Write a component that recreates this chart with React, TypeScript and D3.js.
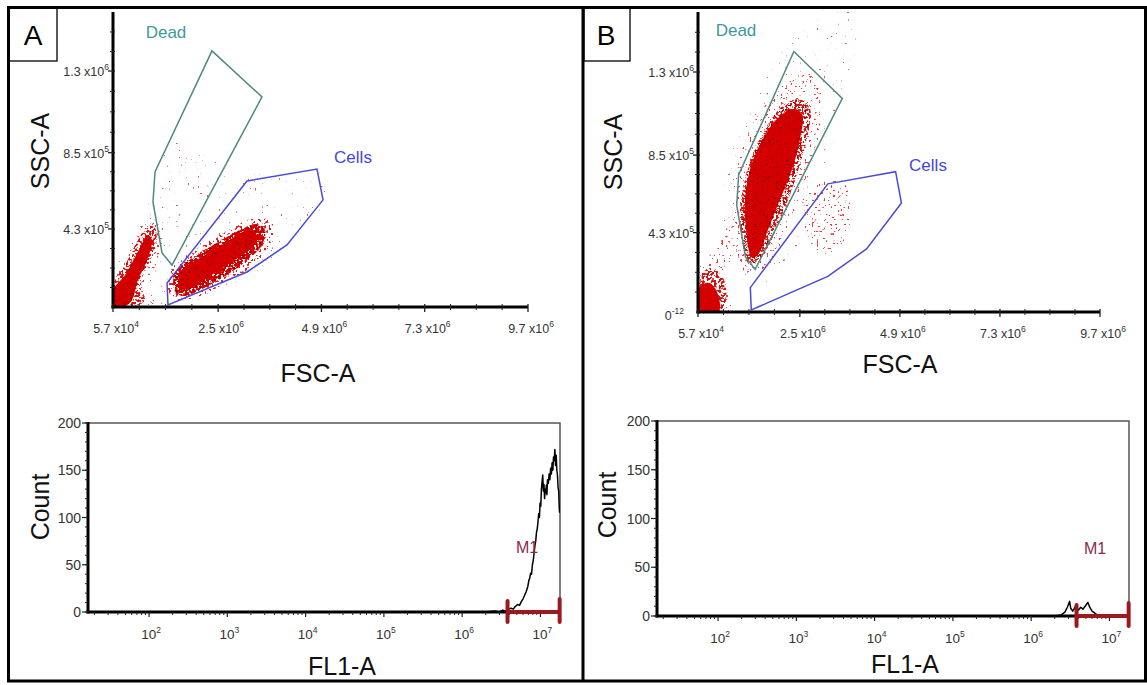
import React from "react";
import * as d3 from "d3";

// ---------------- Scatter axes (values in units of 10^6) ----------------
const fscTicks = [0.057, 2.5, 4.9, 7.3, 9.7];
const fscTickMantissa = ["5.7", "2.5", "4.9", "7.3", "9.7"];
const fscTickExp = ["4", "6", "6", "6", "6"];
const sscTicks = [0.43, 0.85, 1.3];
const sscTickMantissa = ["4.3", "8.5", "1.3"];
const sscTickExp = ["5", "5", "6"];
const fscDomain = [0.057, 9.7];
const sscDomain = [0, 1.625];

// ---------------- Gates (FSC-A, SSC-A, x10^6) ----------------
const deadGate = [
  [2.357, 1.411], [3.519, 1.157], [1.428, 0.231], [1.196, 0.298], [0.986, 0.579], [1.033, 0.744],
];
const cellsGate = [
  [3.171, 0.694], [4.797, 0.76], [4.937, 0.59], [4.1, 0.342], [3.171, 0.193], [1.335, 0.011], [1.312, 0.132],
];

// ---------------- Event density contours ----------------
// Panel A (untreated)
const aDebrisInner = [
  [0.057, 0.011], [0.057, 0.094], [0.336, 0.176], [0.684, 0.325], [0.87, 0.397], [0.963, 0.369],
  [0.87, 0.27], [0.638, 0.149], [0.499, 0.039], [0.336, 0.006],
];
const aDebrisCore = [
  [0.057, 0.006], [0.057, 0.121], [0.336, 0.231], [0.638, 0.369], [0.87, 0.446], [1.033, 0.435],
  [1.056, 0.342], [0.87, 0.231], [0.684, 0.121], [0.801, 0.039], [0.568, 0.006],
];
const aDebrisHalo = [
  [0.057, 0.0], [0.057, 0.176], [0.452, 0.342], [0.801, 0.479], [1.103, 0.49], [1.196, 0.369],
  [1.103, 0.231], [0.917, 0.094], [1.265, 0.039], [1.149, 0.0],
];
const aCellsInner = [
  [1.614, 0.105], [1.614, 0.193], [2.079, 0.27], [2.66, 0.353], [3.194, 0.424], [3.38, 0.408],
  [3.334, 0.342], [2.892, 0.259], [2.311, 0.171], [1.893, 0.105],
];
const aCellsCore = [
  [1.521, 0.077], [1.475, 0.176], [1.893, 0.27], [2.427, 0.347], [3.008, 0.424], [3.38, 0.457],
  [3.589, 0.424], [3.52, 0.342], [3.125, 0.248], [2.59, 0.16], [2.079, 0.094], [1.73, 0.061],
];
const aCellsHalo = [
  [1.382, 0.061], [1.382, 0.204], [1.963, 0.314], [2.66, 0.413], [3.357, 0.49], [3.752, 0.468],
  [3.706, 0.342], [3.241, 0.215], [2.59, 0.121], [1.963, 0.05], [1.568, 0.039],
];
const aCellsOuter = [
  [1.265, 0.05], [1.265, 0.231], [2.079, 0.342], [3.008, 0.468], [3.706, 0.523], [4.054, 0.479],
  [3.822, 0.325], [3.241, 0.204], [2.427, 0.094], [1.73, 0.022],
];
const aSparse = [
  [0.917, 0.039], [0.963, 0.7], [1.614, 0.92], [2.776, 0.755], [3.706, 0.727], [4.868, 0.7],
  [4.984, 0.562], [4.17, 0.369], [3.473, 0.204], [2.079, 0.039],
];

// Panel B (treated)
const bDebrisInner = [
  [0.081, 0.005], [0.081, 0.131], [0.297, 0.158], [0.489, 0.12], [0.561, 0.005],
];
const bDebrisCore = [
  [0.081, 0.0], [0.081, 0.185], [0.393, 0.239], [0.681, 0.174], [0.729, 0.065], [0.633, 0.0],
];
const bDebrisHalo = [
  [0.057, 0.0], [0.057, 0.228], [0.465, 0.337], [0.873, 0.473], [1.113, 0.49], [1.017, 0.337],
  [0.705, 0.174], [0.825, 0.011],
];
const bDeadInner = [
  [1.352, 0.294], [1.209, 0.446], [1.185, 0.609], [1.304, 0.772], [1.544, 0.908], [1.904, 1.034],
  [2.312, 1.099], [2.552, 1.072], [2.504, 0.936], [2.312, 0.772], [2.024, 0.609], [1.736, 0.446],
  [1.496, 0.31],
];
const bDeadCore = [
  [1.304, 0.256], [1.113, 0.392], [1.065, 0.555], [1.185, 0.718], [1.424, 0.881], [1.736, 1.017],
  [2.144, 1.126], [2.504, 1.153], [2.744, 1.099], [2.696, 0.963], [2.504, 0.8], [2.264, 0.636],
  [1.976, 0.473], [1.664, 0.326],
];
const bDeadMid = [
  [1.185, 0.218], [0.945, 0.392], [0.897, 0.609], [1.017, 0.8], [1.304, 0.99], [1.784, 1.153],
  [2.264, 1.262], [2.744, 1.289], [3.032, 1.208], [2.984, 1.017], [2.792, 0.827], [2.504, 0.636],
  [2.144, 0.419], [1.784, 0.256],
];
const bDeadOuter = [
  [1.113, 0.174], [0.705, 0.392], [0.705, 0.718], [1.065, 0.99], [1.664, 1.262], [2.264, 1.48],
  [2.864, 1.616], [3.703, 1.632], [3.823, 1.425], [3.463, 1.099], [3.223, 0.827], [2.864, 0.555],
  [2.384, 0.31], [1.904, 0.174],
];
const bCellsSparse = [
  [2.624, 0.636], [3.463, 0.718], [3.703, 0.609], [3.583, 0.392], [2.984, 0.31], [2.624, 0.446],
];

// ---------------- Histograms FL1-A ----------------
const countTicks = [0, 50, 100, 150, 200];
const fl1Ticks = [1e2, 1e3, 1e4, 1e5, 1e6, 1e7];
const fl1TickExp = ["2", "3", "4", "5", "6", "7"];
const fl1Domain = [Math.pow(10, 1.22), Math.pow(10, 7.25)];
const m1Range = [3.8e6, 1.76e7];

const fl1A = [
  2.0e6, 2.6e6, 3.0e6, 3.3e6, 3.6e6, 3.9e6, 4.2e6, 4.5e6, 4.8e6, 5.1e6, 5.4e6, 5.7e6, 6.0e6, 6.3e6,
  6.6e6, 6.9e6, 7.1e6, 7.3e6, 7.5e6, 7.7e6, 7.9e6, 8.1e6, 8.3e6, 8.5e6, 8.7e6, 8.9e6, 9.1e6, 9.3e6,
  9.5e6, 9.7e6, 9.9e6, 1.01e7, 1.03e7, 1.05e7, 1.07e7, 1.09e7, 1.11e7, 1.13e7, 1.15e7, 1.17e7,
  1.19e7, 1.21e7, 1.23e7, 1.26e7, 1.29e7, 1.32e7, 1.35e7, 1.38e7, 1.41e7, 1.44e7, 1.47e7, 1.5e7,
  1.53e7, 1.56e7, 1.59e7, 1.62e7, 1.65e7, 1.68e7, 1.71e7, 1.74e7, 1.76e7,
];
const countA = [
  0, 1, 0, 2, 1, 3, 4, 3, 6, 8, 7, 11, 14, 18,
  22, 27, 33, 36, 41, 40, 50, 55, 62, 70, 75, 84, 88, 95,
  104, 100, 115, 112, 130, 138, 145, 128, 135, 120, 130, 126,
  134, 124, 140, 136, 146, 140, 152, 146, 158, 150, 164, 160,
  172, 155, 166, 150, 145, 132, 128, 110, 105,
];
const fl1B = [
  2.0e6, 2.4e6, 2.7e6, 2.9e6, 3.1e6, 3.2e6, 3.4e6, 3.7e6, 4.0e6, 4.3e6, 4.6e6, 5.0e6, 5.3e6, 5.6e6,
  6.0e6, 6.5e6, 7.0e6, 8.0e6,
];
const countB = [0, 1, 4, 9, 15, 8, 5, 10, 6, 9, 7, 11, 14, 9, 5, 3, 1, 0];

// ---------------- styles ----------------
const FONT = "'Liberation Sans', Arial, Helvetica, sans-serif";
const TICK_COLOR = "#333";
const speckles = [
  { id: "spk-dense", t: 0.42, seed: 2, color: "#d40000" },
  { id: "spk-mid", t: 0.5, seed: 5, color: "#d81010" },
  { id: "spk-low", t: 0.58, seed: 9, color: "#dc2222" },
  { id: "spk-sparse", t: 0.65, seed: 13, color: "#e04040" },
  { id: "spk-rare", t: 0.71, seed: 21, color: "#e05858" },
  { id: "spk-dark", t: 0.64, seed: 31, color: "#8e0000" },
];

function SpeckleFilters() {
  return (
    <>
      {speckles.map((s) => {
        const k = 25;
        return (
          <filter
            key={s.id}
            id={s.id}
            filterUnits="userSpaceOnUse"
            x={0}
            y={0}
            width={1147}
            height={685}
            colorInterpolationFilters="sRGB"
          >
            <feTurbulence type="fractalNoise" baseFrequency={0.42} numOctaves={1} seed={s.seed} result="noise" />
            <feColorMatrix
              in="noise"
              type="matrix"
              values="0 0 0 0 0  0 0 0 0 0  0 0 0 0 0  1 0 0 0 0"
              result="na"
            />
            <feComponentTransfer in="na" result="mask">
              <feFuncA type="linear" slope={k} intercept={-k * s.t} />
            </feComponentTransfer>
            <feComposite in="SourceGraphic" in2="mask" operator="in" />
          </filter>
        );
      })}
    </>
  );
}

type Layer = { pts: number[][]; level: string };

function Sup({ base, exp, size, supSize }: { base: string; exp: string; size: number; supSize: number }) {
  return (
    <>
      {base}
      <tspan fontSize={supSize} dy={-size * 0.45}>
        {exp}
      </tspan>
    </>
  );
}

function ScatterPanel(props: {
  id: string;
  x0: number;
  x1: number;
  yTop: number;
  yBot: number;
  layers: Layer[];
  zeroLabel: boolean;
  deadLabel: [number, number];
  cellsLabel: [number, number];
  xTitle: [number, number];
  yTitle: [number, number];
}) {
  const { id, x0, x1, yTop, yBot, layers } = props;
  const xs = d3.scaleLinear().domain(fscDomain).range([x0, x1]);
  const ys = d3.scaleLinear().domain(sscDomain).range([yBot, yTop]);
  const smooth = d3
    .line<number[]>()
    .x((d) => xs(d[0]))
    .y((d) => ys(d[1]))
    .curve(d3.curveCatmullRomClosed.alpha(0.5));
  const poly = d3
    .line<number[]>()
    .x((d) => xs(d[0]))
    .y((d) => ys(d[1]))
    .curve(d3.curveLinearClosed);

  const xMinor: number[] = [];
  for (let i = 0; i < fscTicks.length - 1; i++) {
    const a = fscTicks[i], b = fscTicks[i + 1];
    for (let k = 1; k < 4; k++) xMinor.push(a + ((b - a) * k) / 4);
  }
  const yMajorsAll = [0, ...sscTicks];
  const yMinor: number[] = [];
  for (let i = 0; i < yMajorsAll.length - 1; i++) {
    const a = yMajorsAll[i], b = yMajorsAll[i + 1];
    for (let k = 1; k < 4; k++) yMinor.push(a + ((b - a) * k) / 4);
  }
  for (let v = 1.3 + 0.1075; v < 1.62; v += 0.1075) yMinor.push(v);

  const TS = 12.5;
  return (
    <g>
      <defs>
        <clipPath id={id + "-clip"}>
          <rect x={x0} y={yTop - 4} width={x1 - x0} height={yBot - yTop + 4} />
        </clipPath>
      </defs>
      <g clipPath={`url(#${id}-clip)`}>
        {layers.map((l, i) =>
          l.level === "solid" ? (
            <path key={i} d={smooth(l.pts) || ""} fill="#d40000" />
          ) : (
            <path
              key={i}
              d={smooth(l.pts) || ""}
              fill={speckles.find((s) => s.id === l.level)!.color}
              filter={`url(#${l.level})`}
            />
          )
        )}
      </g>
      {/* gates */}
      <path d={poly(deadGate) || ""} fill="none" stroke="#4f8a82" strokeWidth={1.5} />
      <path d={poly(cellsGate) || ""} fill="none" stroke="#4a4ad6" strokeWidth={1.5} />
      <text x={props.deadLabel[0]} y={props.deadLabel[1]} fontFamily={FONT} fontSize={17} fill="#3d9a9a" textAnchor="middle">
        Dead
      </text>
      <text x={props.cellsLabel[0]} y={props.cellsLabel[1]} fontFamily={FONT} fontSize={17} fill="#4545e0" textAnchor="middle">
        Cells
      </text>
      {/* axes */}
      <line x1={x0} x2={x0} y1={yTop} y2={yBot + 1.5} stroke="#000" strokeWidth={3} />
      <line x1={x0 - 1.5} x2={x1} y1={yBot} y2={yBot} stroke="#000" strokeWidth={3} />
      {xMinor.map((v, i) => (
        <line key={"xm" + i} x1={xs(v)} x2={xs(v)} y1={yBot - 3} y2={yBot + 3} stroke="#222" strokeWidth={1} />
      ))}
      {fscTicks.map((v, i) => (
        <line key={"xM" + i} x1={xs(v)} x2={xs(v)} y1={yBot - 3} y2={yBot + 5} stroke="#222" strokeWidth={1.3} />
      ))}
      {yMinor.map((v, i) => (
        <line key={"ym" + i} x1={x0 - 3} x2={x0 + 2} y1={ys(v)} y2={ys(v)} stroke="#222" strokeWidth={1} />
      ))}
      {sscTicks.map((v, i) => (
        <line key={"yM" + i} x1={x0 - 5} x2={x0 + 2} y1={ys(v)} y2={ys(v)} stroke="#222" strokeWidth={1.3} />
      ))}
      {fscTicks.map((v, i) => (
        <text key={"xl" + i} x={xs(v) + 3} y={yBot + 26} fontFamily={FONT} fontSize={TS} fill={TICK_COLOR} textAnchor="middle">
          <Sup base={fscTickMantissa[i] + " x10"} exp={fscTickExp[i]} size={TS} supSize={8.5} />
        </text>
      ))}
      {sscTicks.map((v, i) => (
        <text key={"yl" + i} x={x0 - 4} y={ys(v) + 5} fontFamily={FONT} fontSize={TS} fill={TICK_COLOR} textAnchor="end">
          <Sup base={sscTickMantissa[i] + " x10"} exp={sscTickExp[i]} size={TS} supSize={8.5} />
        </text>
      ))}
      {props.zeroLabel && (
        <text x={x0 - 14} y={ys(0) + 8} fontFamily={FONT} fontSize={TS} fill={TICK_COLOR} textAnchor="end">
          <Sup base="0" exp="-12" size={TS} supSize={8.5} />
        </text>
      )}
      <text x={props.xTitle[0]} y={props.xTitle[1]} fontFamily={FONT} fontSize={25} fill="#111" textAnchor="middle">
        FSC-A
      </text>
      <text
        transform={`translate(${props.yTitle[0]},${props.yTitle[1]}) rotate(-90)`}
        fontFamily={FONT}
        fontSize={25}
        fill="#111"
        textAnchor="middle"
        dominantBaseline="central"
      >
        SSC-A
      </text>
    </g>
  );
}

function HistPanel(props: {
  id: string;
  x0: number;
  x1: number;
  yTop: number;
  yBot: number;
  fl1: number[];
  counts: number[];
  m1Label: [number, number];
  xTitle: [number, number];
  yTitle: [number, number];
}) {
  const { id, x0, x1, yTop, yBot } = props;
  const xs = d3.scaleLog().domain(fl1Domain).range([x0, x1]);
  const ys = d3.scaleLinear().domain([0, 200]).range([yBot, yTop]);
  const pts = props.fl1.map((v, i) => [v, props.counts[i]]);
  const line = d3
    .line<number[]>()
    .x((d) => xs(d[0]))
    .y((d) => ys(d[1]));
  const xMinor: number[] = [];
  for (let e = 1; e <= 7; e++) {
    for (let m = 2; m <= 9; m++) {
      const v = m * Math.pow(10, e);
      if (v > fl1Domain[0] && v < fl1Domain[1]) xMinor.push(v);
    }
  }
  const yMinor = d3.range(0, 201, 10);
  const m1Color = "#9a1a1f";
  const mx0 = xs(m1Range[0]);
  const mx1 = Math.min(xs(m1Range[1]), x1);
  return (
    <g>
      <defs>
        <clipPath id={id + "-clip"}>
          <rect x={x0} y={yTop} width={x1 - x0} height={yBot - yTop + 2} />
        </clipPath>
      </defs>
      {/* frame top/right */}
      <path d={`M${x0},${yTop}H${x1}V${yBot}`} fill="none" stroke="#555" strokeWidth={1.5} />
      {/* histogram */}
      <path
        d={line(pts) || ""}
        fill="none"
        stroke="#000"
        strokeWidth={1.5}
        strokeLinejoin="round"
        clipPath={`url(#${id}-clip)`}
      />
      {/* axes */}
      <line x1={x0} x2={x0} y1={yTop - 1} y2={yBot + 1.5} stroke="#000" strokeWidth={3} />
      <line x1={x0 - 1.5} x2={x1} y1={yBot} y2={yBot} stroke="#000" strokeWidth={3} />
      {xMinor.map((v, i) => (
        <line key={"xm" + i} x1={xs(v)} x2={xs(v)} y1={yBot} y2={yBot + 3} stroke="#222" strokeWidth={1} />
      ))}
      {fl1Ticks.map((v, i) => (
        <line key={"xM" + i} x1={xs(v)} x2={xs(v)} y1={yBot} y2={yBot + 5} stroke="#222" strokeWidth={1.2} />
      ))}
      {yMinor.map((v, i) => (
        <line key={"ym" + i} x1={x0 - 3} x2={x0} y1={ys(v)} y2={ys(v)} stroke="#222" strokeWidth={1} />
      ))}
      {countTicks.map((v, i) => (
        <line key={"yM" + i} x1={x0 - 6} x2={x0} y1={ys(v)} y2={ys(v)} stroke="#222" strokeWidth={1.2} />
      ))}
      {countTicks.map((v, i) => (
        <text key={"yl" + i} x={x0 - 7} y={ys(v) + 5} fontFamily={FONT} fontSize={14} fill={TICK_COLOR} textAnchor="end">
          {v}
        </text>
      ))}
      {fl1Ticks.map((v, i) => (
        <text key={"xl" + i} x={xs(v) + 2} y={yBot + 27} fontFamily={FONT} fontSize={13.5} fill={TICK_COLOR} textAnchor="middle">
          <Sup base="10" exp={fl1TickExp[i]} size={13.5} supSize={8.5} />
        </text>
      ))}
      {/* M1 marker */}
      <line x1={mx0} x2={mx1} y1={yBot} y2={yBot} stroke={m1Color} strokeWidth={4} />
      <line x1={mx0} x2={mx0} y1={yBot - 11} y2={yBot + 10} stroke={m1Color} strokeWidth={4} strokeLinecap="round" />
      <line x1={mx1} x2={mx1} y1={yBot - 13} y2={yBot + 10} stroke={m1Color} strokeWidth={4} strokeLinecap="round" />
      <text x={props.m1Label[0]} y={props.m1Label[1]} fontFamily={FONT} fontSize={16} fill="#8e2a48" textAnchor="middle">
        M1
      </text>
      <text x={props.xTitle[0]} y={props.xTitle[1]} fontFamily={FONT} fontSize={25} fill="#111" textAnchor="middle">
        FL1-A
      </text>
      <text
        transform={`translate(${props.yTitle[0]},${props.yTitle[1]}) rotate(-90)`}
        fontFamily={FONT}
        fontSize={25}
        fill="#111"
        textAnchor="middle"
        dominantBaseline="central"
      >
        Count
      </text>
    </g>
  );
}

export default function App() {
  const layersA: Layer[] = [
    { pts: aSparse, level: "spk-rare" },
    { pts: aDebrisHalo, level: "spk-sparse" },
    { pts: aDebrisCore, level: "spk-mid" },
    { pts: aDebrisInner, level: "solid" },
    { pts: aDebrisInner, level: "spk-dark" },
    { pts: aCellsOuter, level: "spk-rare" },
    { pts: aCellsHalo, level: "spk-low" },
    { pts: aCellsCore, level: "spk-dense" },
    { pts: aCellsInner, level: "solid" },
    { pts: aCellsCore, level: "spk-dark" },
  ];
  const layersB: Layer[] = [
    { pts: bDeadOuter, level: "spk-rare" },
    { pts: bCellsSparse, level: "spk-sparse" },
    { pts: bDebrisHalo, level: "spk-sparse" },
    { pts: bDebrisCore, level: "spk-mid" },
    { pts: bDebrisInner, level: "solid" },
    { pts: bDeadMid, level: "spk-sparse" },
    { pts: bDeadCore, level: "spk-mid" },
    { pts: bDeadInner, level: "solid" },
    { pts: bDeadCore, level: "spk-dark" },
  ];
  return (
    <svg
      width={1147}
      height={685}
      viewBox="0 0 1147 685"
      style={{ position: "absolute", left: 0, top: 0, background: "#fff" }}
    >
      <defs>
        <SpeckleFilters />
      </defs>
      <rect x={0} y={0} width={1147} height={685} fill="#fff" />
      {/* frame */}
      <rect x={8.5} y={7.5} width={1137} height={673.5} fill="none" stroke="#000" strokeWidth={3} />
      <line x1={583} x2={583} y1={7} y2={681} stroke="#000" strokeWidth={3} />
      <rect x={9} y={8} width={48} height={53} fill="none" stroke="#000" strokeWidth={1.3} />
      <rect x={584} y={8} width={46} height={53} fill="none" stroke="#000" strokeWidth={1.3} />
      <text x={33} y={45} fontFamily={FONT} fontSize={28} fill="#000" textAnchor="middle">
        A
      </text>
      <text x={606} y={45} fontFamily={FONT} fontSize={28} fill="#000" textAnchor="middle">
        B
      </text>

      <ScatterPanel
        id="sa"
        x0={113}
        x1={528}
        yTop={12}
        yBot={307}
        layers={layersA}
        zeroLabel={false}
        deadLabel={[166, 38]}
        cellsLabel={[353, 163]}
        xTitle={[318, 382]}
        yTitle={[40, 151]}
      />
      <ScatterPanel
        id="sb"
        x0={698}
        x1={1100}
        yTop={12}
        yBot={312}
        layers={layersB}
        zeroLabel={true}
        deadLabel={[736, 36]}
        cellsLabel={[928, 171]}
        xTitle={[900, 373]}
        yTitle={[613, 152]}
      />
      <HistPanel
        id="ha"
        x0={88}
        x1={560}
        yTop={423}
        yBot={612}
        fl1={fl1A}
        counts={countA}
        m1Label={[527, 553]}
        xTitle={[342, 675]}
        yTitle={[40, 507]}
      />
      <HistPanel
        id="hb"
        x0={657}
        x1={1129}
        yTop={421}
        yBot={616}
        fl1={fl1B}
        counts={countB}
        m1Label={[1095, 554]}
        xTitle={[905, 673]}
        yTitle={[607, 505]}
      />
    </svg>
  );
}
